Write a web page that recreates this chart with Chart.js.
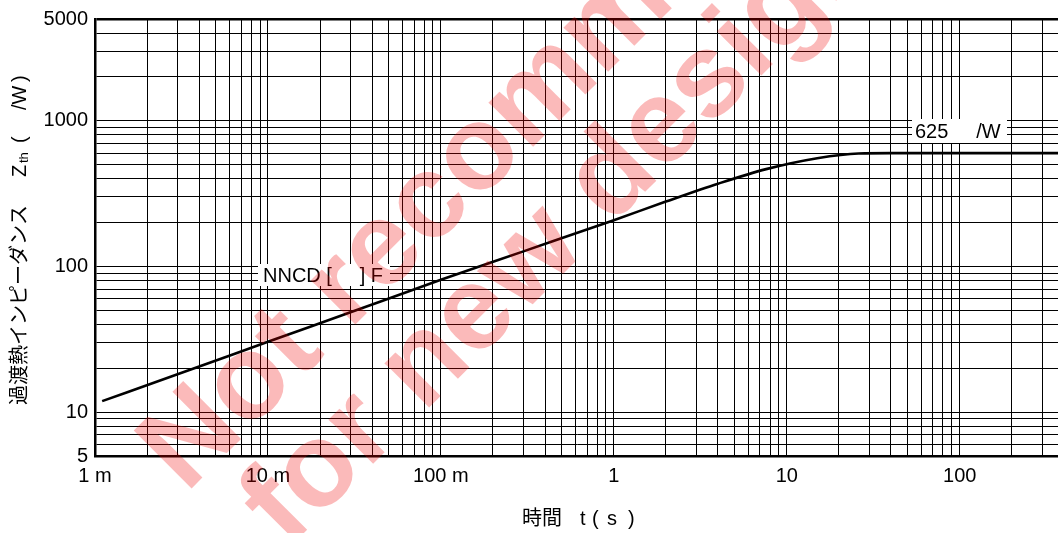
<!DOCTYPE html>
<html>
<head>
<meta charset="utf-8">
<script src="https://cdn.jsdelivr.net/npm/chart.js@4"></script>
<style>
  html, body { margin: 0; padding: 0; background: #fff; }
  #wrap { width: 1058px; height: 533px; }
</style>
</head>
<body>
<div id="wrap"><canvas id="zth"></canvas></div>
<script>
// ----- DATA -----
const timeS = [0.0011, 0.003, 0.01, 0.03, 0.1, 0.3, 1, 2, 4, 7.6, 15, 26, 40, 100, 370];
const zthCW = [11.9, 18.2, 30.4, 48.5, 81, 127, 208, 279, 370, 466, 554, 597, 600, 600, 600];

const xTickValues = [0.001, 0.01, 0.1, 1, 10, 100];
const xTickLabels = ["1 m", "10 m", "100 m", "1", "10", "100"];
const yTickValues = [5, 10, 100, 1000, 5000];
const yTickLabels = ["5", "10", "100", "1000", "5000"];

const curveLabel = "NNCD [     ] F";
const levelLabel = "625     /W";
const watermark = ["Not recommended", "for new design"];

// grid lines at 1..9 of every decade inside the range
function logGrid(min, max) {
  const out = [];
  for (let e = Math.floor(Math.log10(min)); e <= Math.ceil(Math.log10(max)); e++) {
    for (let m = 1; m <= 9; m++) {
      const v = +(m * Math.pow(10, e)).toPrecision(3);
      if (v >= min * 0.999 && v <= max * 1.001) out.push(v);
    }
  }
  return out;
}

const FONT = "'Liberation Sans', Arial, 'Noto Sans CJK JP', sans-serif";
const X_MIN = 0.001, X_MAX = 370, Y_MIN = 5, Y_MAX = 5000;

// ----- EXTRA DRAWING -----
const overlay = {
  id: "overlay",
  afterDatasetsDraw(chart) {
    const { ctx } = chart;
    ctx.save();
    ctx.font = "20px " + FONT;
    ctx.textBaseline = "middle";

    // boxed labels
    ctx.fillStyle = "#fff";
    ctx.fillRect(258, 264, 132, 22);
    ctx.fillRect(912, 119, 95, 24);
    ctx.fillStyle = "#000";
    ctx.fillText(curveLabel, 263, 276);
    ctx.fillText(levelLabel, 915, 132);

    // x title
    ctx.fillText("時間", 522, 519);
    ctx.fillText("t", 580, 519);
    ctx.fillText("(", 592, 519);
    ctx.fillText("s", 607, 519);
    ctx.fillText(")", 628, 519);

    // y title, rotated, with subscript
    ctx.translate(20, 405);
    ctx.rotate(-Math.PI / 2);
    ctx.fillText("過渡熱インピーダンス", 0, 0);
    ctx.fillText("Z", 228, 0);
    ctx.font = "13px " + FONT;
    ctx.fillText("th", 242, 4);
    ctx.font = "20px " + FONT;
    ctx.fillText("(", 262, 0);
    ctx.fillText("/W", 295, 0);
    ctx.fillText(")", 323, 0);
    ctx.restore();
  },
  afterDraw(chart) {
    const { ctx } = chart;
    ctx.save();
    ctx.fillStyle = "rgba(240, 0, 0, 0.27)";
    ctx.font = "bold 119px " + FONT;
    ctx.textBaseline = "alphabetic";
    ctx.translate(186, 494);
    ctx.rotate(-45 * Math.PI / 180);
    ctx.fillText(watermark[0], 0, 0);
    ctx.fillText(watermark[1], 33, 111);
    ctx.restore();
  }
};

// ----- CHART -----
const points = timeS.map((t, i) => ({ x: t, y: zthCW[i] }));

new Chart(document.getElementById("zth"), {
  type: "line",
  data: {
    datasets: [{
      data: points,
      borderColor: "#000",
      borderWidth: 2.6,
      pointRadius: 0,
      cubicInterpolationMode: "monotone",
      fill: false
    }]
  },
  options: {
    responsive: true,
    maintainAspectRatio: false,
    animation: false,
    layout: { padding: { top: 18, right: 0, left: 0, bottom: 0 } },
    plugins: { legend: { display: false }, tooltip: { enabled: false } },
    scales: {
      x: {
        type: "logarithmic",
        min: X_MIN,
        max: X_MAX,
        afterBuildTicks: (s) => { s.ticks = logGrid(X_MIN, X_MAX).map((v) => ({ value: v })); },
        afterFit: (s) => { s.height = 77; },
        grid: { color: "#000", lineWidth: 1, drawTicks: false },
        border: { display: true, color: "#000", width: 2.5 },
        ticks: {
          autoSkip: false,
          maxRotation: 0,
          padding: 8,
          color: "#000",
          font: { family: FONT, size: 20 },
          callback: (v) => {
            const i = xTickValues.findIndex((t) => Math.abs(t - v) / t < 1e-6);
            return i >= 0 ? xTickLabels[i] : "";
          }
        }
      },
      y: {
        type: "logarithmic",
        min: Y_MIN,
        max: Y_MAX,
        afterBuildTicks: (s) => { s.ticks = logGrid(Y_MIN, Y_MAX).map((v) => ({ value: v })); },
        afterFit: (s) => { s.width = 95; },
        grid: {
          color: "#000",
          drawTicks: false,
          lineWidth: (c) => (c.tick && c.tick.value === Y_MAX ? 2.5 : 1)
        },
        border: { display: true, color: "#000", width: 2.5 },
        ticks: {
          autoSkip: false,
          padding: 7,
          color: "#000",
          font: { family: FONT, size: 20 },
          callback: (v) => {
            const i = yTickValues.findIndex((t) => Math.abs(t - v) / t < 1e-6);
            return i >= 0 ? yTickLabels[i] : "";
          }
        }
      }
    }
  },
  plugins: [overlay]
});
</script>
</body>
</html>
